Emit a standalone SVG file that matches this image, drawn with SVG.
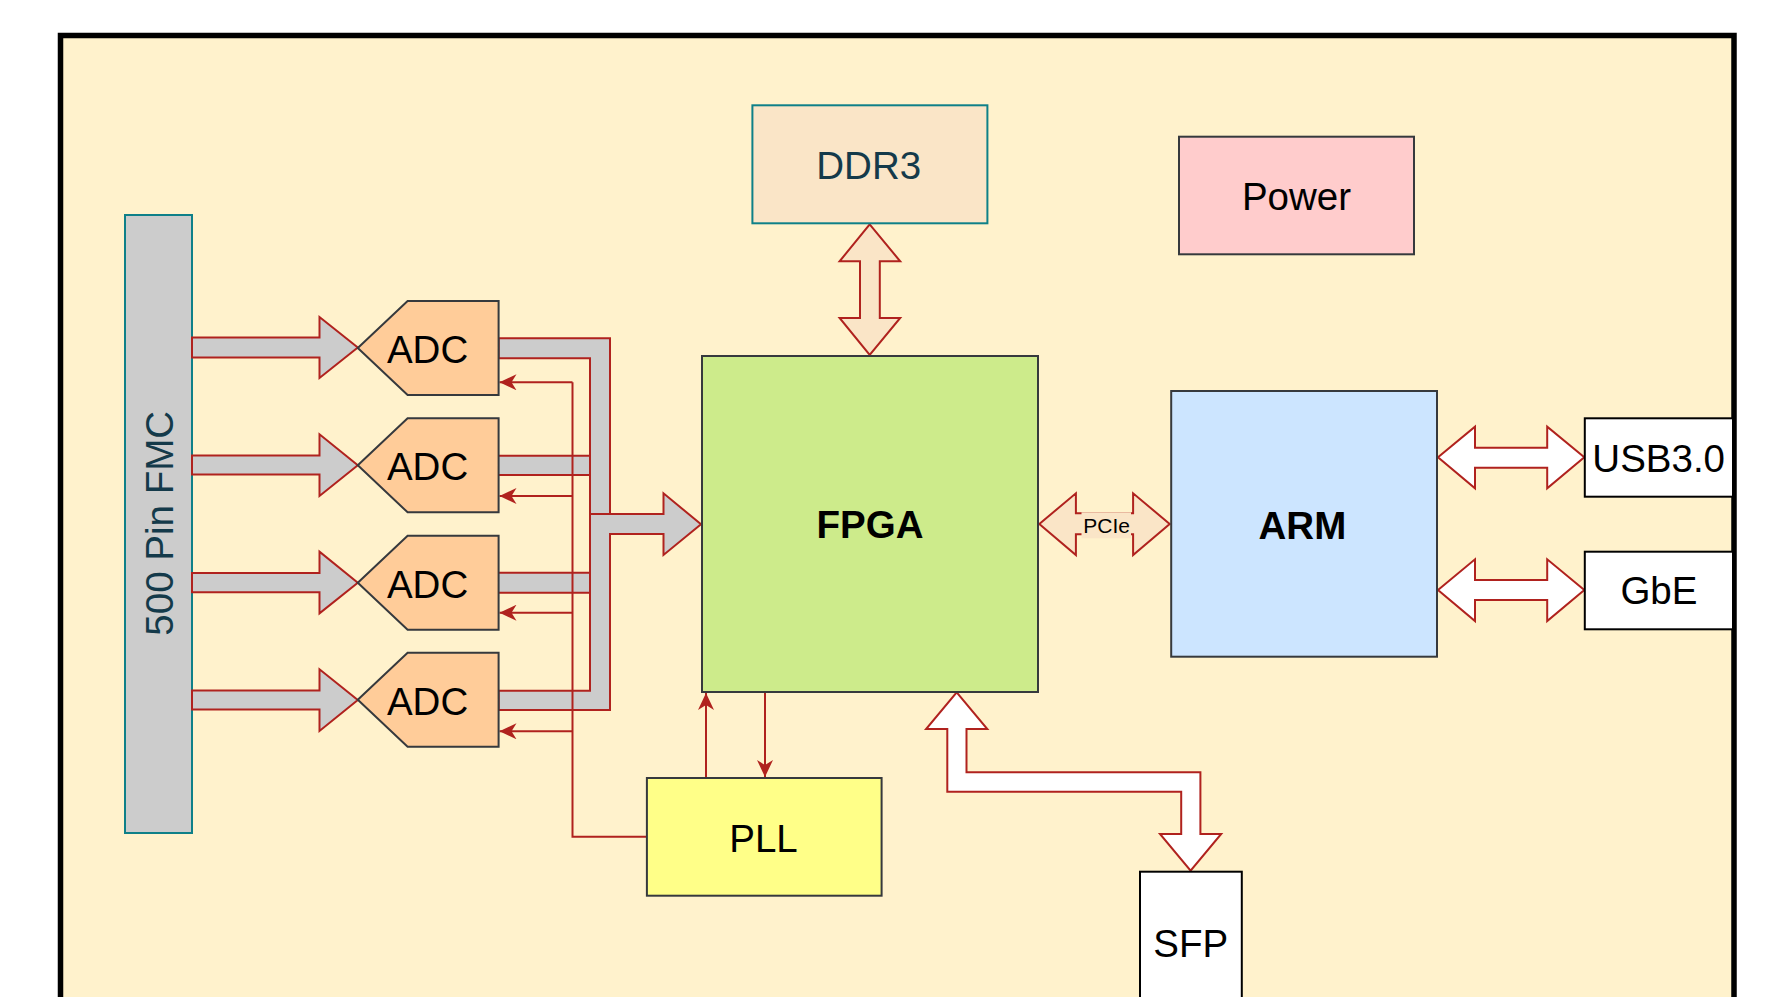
<svg xmlns="http://www.w3.org/2000/svg" width="1775" height="997" viewBox="0 0 1775 997">
<defs>
<marker id="ah" viewBox="0 0 17 16" refX="17" refY="8" markerWidth="17" markerHeight="16" markerUnits="userSpaceOnUse" orient="auto">
<path d="M0,0 L17,8 L0,16 L5,8 Z" fill="#b0221e"/>
</marker>
<style>
text{font-family:"Liberation Sans",Arial,sans-serif;font-size:38.5px;fill:#000;text-anchor:middle}
.b{font-weight:bold}
.dk{fill:#143a4a}
.box{stroke:#36393d;stroke-width:2}
.teal{stroke:#0e8088;stroke-width:2}
.wire{fill:none;stroke:#b0221e;stroke-width:2}
.bus{fill:#cccccc;stroke:#b0221e;stroke-width:2;stroke-linejoin:miter}
.wa{fill:#ffffff;stroke:#b0221e;stroke-width:2}
.pa{fill:#fae5c7;stroke:#b0221e;stroke-width:2}
.adc{fill:#ffcc99;stroke:#36393d;stroke-width:2}
</style>
</defs>
<rect id="board" x="60.5" y="35.5" width="1673.5" height="1020" fill="#fff2cc" stroke="#000" stroke-width="5.5"/>

<g id="fmc">
<rect x="125" y="215" width="67" height="618" fill="#cccccc" class="teal"/>
<text class="dk" transform="translate(158.9,523.3) rotate(-90)" x="0" y="13.8">500 Pin FMC</text>
</g>

<g id="connectors">
<!-- FMC to ADC arrows -->
<polygon class="bus" points="192,337.5 319.5,337.5 319.5,317 357.8,347.5 319.5,378 319.5,357.5 192,357.5"/>
<polygon class="bus" points="192,455.5 319.5,455.5 319.5,434.3 357.8,465.3 319.5,496 319.5,474.5 192,474.5"/>
<polygon class="bus" points="192,573 319.5,573 319.5,551.7 357.8,582.7 319.5,613.3 319.5,592.3 192,592.3"/>
<polygon class="bus" points="192,690.5 319.5,690.5 319.5,669.3 357.8,700 319.5,731 319.5,709.5 192,709.5"/>
<!-- ADC bus to FPGA -->
<polygon class="bus" points="498.6,338.3 610,338.3 610,514 663.5,514 663.5,493.3 701,524.3 663.5,555 663.5,534 610,534 610,710 498.6,710 498.6,690.7 590,690.7 590,358.3 498.6,358.3"/>
<rect x="498.6" y="455.7" width="91.4" height="19.3" fill="#cccccc"/>
<path class="wire" d="M498.6,455.7 H590 M498.6,475 H590"/>
<rect x="498.6" y="572.7" width="91.4" height="20" fill="#cccccc"/>
<path class="wire" d="M498.6,572.7 H590 M498.6,592.7 H590"/>
<path class="wire" d="M590,514 H610 M590,358.3 V690.7"/>
<!-- clock lines -->
<path class="wire" d="M646.9,836.7 H572.5 V382.3"/>
<line class="wire" x1="572.5" y1="382.3" x2="499.5" y2="382.3" marker-end="url(#ah)"/>
<line class="wire" x1="572.5" y1="496" x2="499.5" y2="496" marker-end="url(#ah)"/>
<line class="wire" x1="572.5" y1="612.7" x2="499.5" y2="612.7" marker-end="url(#ah)"/>
<line class="wire" x1="572.5" y1="731.3" x2="499.5" y2="731.3" marker-end="url(#ah)"/>
<line class="wire" x1="706" y1="778" x2="706" y2="693" marker-end="url(#ah)"/>
<line class="wire" x1="765" y1="693" x2="765" y2="777" marker-end="url(#ah)"/>
<!-- DDR3 arrow -->
<polygon class="pa" points="869.7,224.3 900.2,261.3 879.8,261.3 879.8,318 900.2,318 869.7,355 839.6,318 860,318 860,261.3 839.6,261.3"/>
<!-- PCIe arrow -->
<polygon class="pa" points="1039.3,524 1075.9,493.3 1075.9,513.3 1133.1,513.3 1133.1,493.3 1169.7,524 1133.1,555 1133.1,534.3 1075.9,534.3 1075.9,555"/>
<rect x="1081.5" y="512.3" width="49.5" height="26" fill="#fae5c7"/>
<text x="1106.7" y="532.5" style="font-size:21px">PCIe</text>
<!-- USB / GbE arrows -->
<polygon class="wa" points="1438,457.3 1475,426.7 1475,447.7 1547.2,447.7 1547.2,426.7 1584.3,457.3 1547.2,488.3 1547.2,467.7 1475,467.7 1475,488.3"/>
<polygon class="wa" points="1438,590 1475,559.3 1475,580 1547.2,580 1547.2,559.3 1584.3,590 1547.2,621 1547.2,600 1475,600 1475,621"/>
<!-- SFP arrow -->
<polygon class="wa" points="956.7,692.3 987.3,729 966.5,729 966.5,772.3 1200.4,772.3 1200.4,834 1221.2,834 1190.6,870.7 1160,834 1181.2,834 1181.2,791.7 947.3,791.7 947.3,729 926.1,729"/>
</g>

<g id="adc1"><polygon class="adc" points="357.8,348 407.6,301 498.6,301 498.6,395 407.6,395"/><text x="427.6" y="363">ADC</text></g>
<g id="adc2"><polygon class="adc" points="357.8,465.3 407.6,418.3 498.6,418.3 498.6,512.3 407.6,512.3"/><text x="427.6" y="480.3">ADC</text></g>
<g id="adc3"><polygon class="adc" points="357.8,582.7 407.6,535.7 498.6,535.7 498.6,629.7 407.6,629.7"/><text x="427.6" y="597.7">ADC</text></g>
<g id="adc4"><polygon class="adc" points="357.8,699.7 407.6,652.7 498.6,652.7 498.6,746.7 407.6,746.7"/><text x="427.6" y="714.7">ADC</text></g>

<g id="ddr3"><rect x="752.4" y="105.3" width="235" height="118" fill="#fae5c7" class="teal"/><text class="dk" x="868.7" y="178.8">DDR3</text></g>
<g id="power"><rect x="1179" y="136.7" width="235" height="117.6" fill="#ffcccc" class="box"/><text x="1296.5" y="209.8">Power</text></g>
<g id="fpga"><rect x="702" y="356" width="336" height="336" fill="#cdeb8b" class="box"/><text class="b" x="870" y="537.8">FPGA</text></g>
<g id="arm"><rect x="1171.2" y="391" width="265.8" height="265.7" fill="#cce5ff" class="box"/><text class="b" x="1302.4" y="539">ARM</text></g>
<g id="pll"><rect x="646.9" y="778" width="234.7" height="117.7" fill="#ffff88" class="box"/><text x="763.5" y="851.8">PLL</text></g>
<g id="usb"><rect x="1584.8" y="418.3" width="148.2" height="78.4" fill="#ffffff" stroke="#000" stroke-width="2"/><text x="1658.7" y="471.6">USB3.0</text></g>
<g id="gbe"><rect x="1584.8" y="551.7" width="148.2" height="77.6" fill="#ffffff" stroke="#000" stroke-width="2"/><text x="1658.9" y="604.3">GbE</text></g>
<g id="sfp"><rect x="1140" y="871.7" width="101.8" height="160" fill="#ffffff" stroke="#000" stroke-width="2"/><text x="1190.8" y="957.1">SFP</text></g>
</svg>
